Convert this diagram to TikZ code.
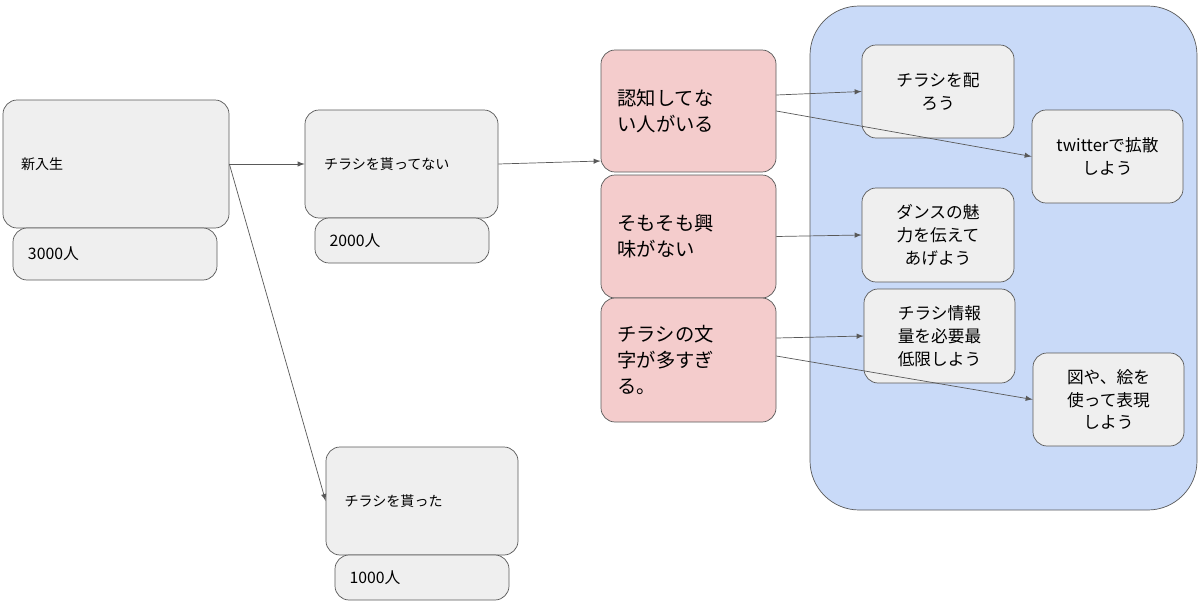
\documentclass[tikz,border=0pt]{standalone}
\usepackage{fontspec}
\setmainfont{Noto Sans CJK JP}
\usetikzlibrary{calc}
\definecolor{boxgrey}{HTML}{EFEFEF}
\definecolor{boxpink}{HTML}{F4CCCC}
\definecolor{boxblue}{HTML}{C9DAF8}
\definecolor{linegrey}{HTML}{595959}
\tikzstyle{box}=[draw=linegrey,fill=boxgrey,rounded corners=8pt,inner sep=0pt]
\tikzstyle{stage}=[box,align=left,font=\fontsize{8}{10}\selectfont]
\tikzstyle{count}=[box,align=left,font=\fontsize{9}{11}\selectfont]
\tikzstyle{cause}=[box,fill=boxpink,align=left,font=\fontsize{11}{15}\selectfont]
\tikzstyle{idea}=[box,align=center,font=\fontsize{9.5}{13}\selectfont]
\tikzstyle{flow}=[-latex,draw=linegrey,thin]
\begin{document}
\begin{tikzpicture}[x=0.02cm,y=-0.02cm]
	\useasboundingbox (0,0) rectangle (1200,612);
	\fill[boxblue,draw=linegrey,rounded corners=28pt] (810,6) rectangle (1197,510);
	% funnel
	\node [stage,minimum width=226*0.02cm,minimum height=128*0.02cm,text width=190*0.02cm] (fresh) at (116,164) {新入生};
	\node [count,minimum width=204*0.02cm,minimum height=52*0.02cm,text width=174*0.02cm] (freshN) at (115,254) {3000人};
	\node [stage,minimum width=193*0.02cm,minimum height=108*0.02cm,text width=155*0.02cm] (noflyer) at (401.5,164) {チラシを貰ってない};
	\node [count,minimum width=174*0.02cm,minimum height=45*0.02cm,text width=145*0.02cm] (noflyerN) at (402,240.5) {2000人};
	\node [stage,minimum width=192*0.02cm,minimum height=108*0.02cm,text width=155*0.02cm] (flyer) at (422,501) {チラシを貰った};
	\node [count,minimum width=174*0.02cm,minimum height=45*0.02cm,text width=145*0.02cm] (flyerN) at (422,577.5) {1000人};
	% causes
	\node [cause,minimum width=175*0.02cm,minimum height=122*0.02cm,text width=142*0.02cm] (unaware) at (688.5,111) {認知してな\\い人がいる};
	\node [cause,minimum width=175*0.02cm,minimum height=123*0.02cm,text width=142*0.02cm] (nointerest) at (688.5,236.5) {そもそも興\\味がない};
	\node [cause,minimum width=175*0.02cm,minimum height=124*0.02cm,text width=142*0.02cm] (toomuch) at (688.5,360) {チラシの文\\字が多すぎ\\る。};
	% ideas
	\node [idea,minimum width=152*0.02cm,minimum height=93*0.02cm] (hand) at (938,91.5) {チラシを配\\ろう};
	\node [idea,minimum width=151*0.02cm,minimum height=93*0.02cm] (tweet) at (1107.5,156.5) {twitterで拡散\\しよう};
	\node [idea,minimum width=152*0.02cm,minimum height=94*0.02cm] (dance) at (938,235) {ダンスの魅\\力を伝えて\\あげよう};
	\node [idea,minimum width=151*0.02cm,minimum height=94*0.02cm] (less) at (939.5,336) {チラシ情報\\量を必要最\\低限しよう};
	\node [idea,minimum width=151*0.02cm,minimum height=93*0.02cm] (figs) at (1108.5,399.5) {図や、絵を\\使って表現\\しよう};
	% connectors
	\draw [flow] (fresh.east) -- (noflyer.west);
	\draw [flow] (fresh.east) -- (flyer.west);
	\draw [flow] (noflyer.east) -- ($(unaware.west)+(0,50)$);
	\draw [flow] ($(unaware.east)+(0,-16)$) -- (hand.west);
	\draw [flow] (unaware.east) -- (tweet.west);
	\draw [flow] (nointerest.east) -- (dance.west);
	\draw [flow] ($(toomuch.east)+(0,-22)$) -- (less.west);
	\draw [flow] ($(toomuch.east)+(0,-4)$) -- (figs.west);
\end{tikzpicture}
\end{document}
